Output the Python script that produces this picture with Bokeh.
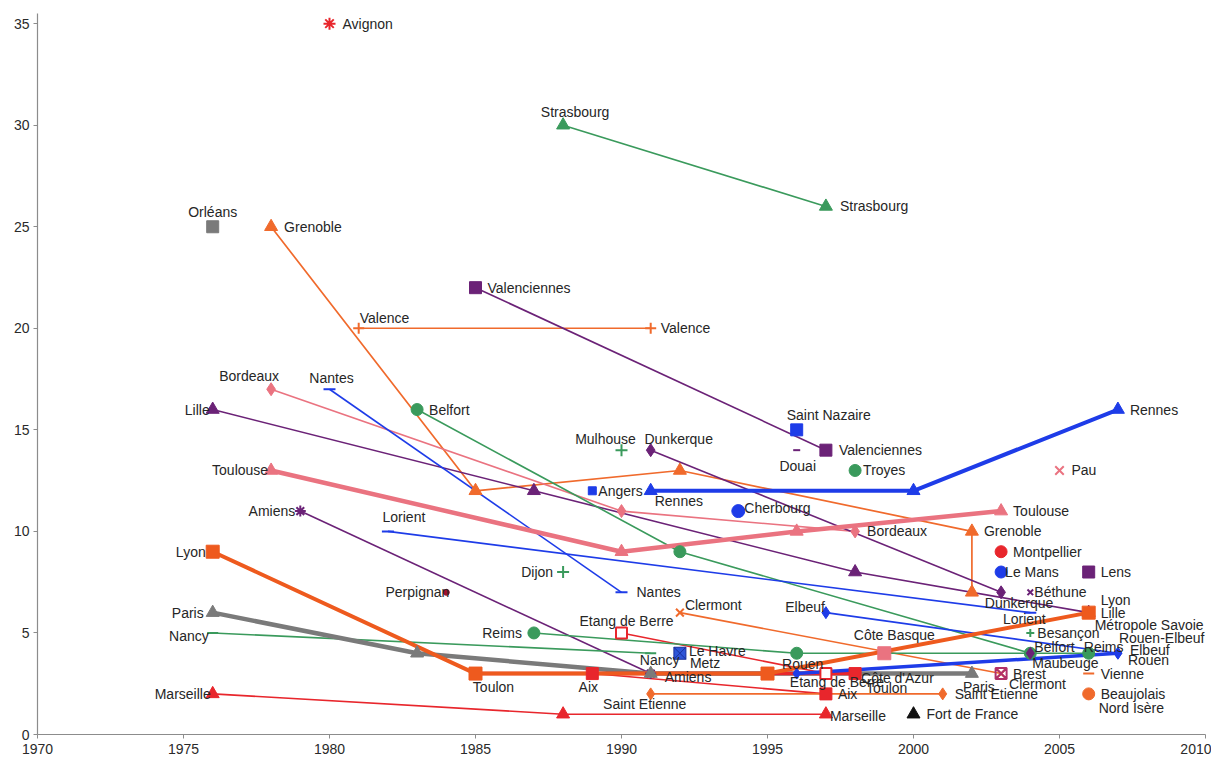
from bokeh.plotting import figure
from bokeh.models import Range1d, FixedTicker, ColumnDataSource
from bokeh.embed import file_html
from bokeh.resources import INLINE
from bokeh.core.properties import value, field

# ---------------- data (year, value) ----------------
avignon_x = [1980]; avignon_y = [35]
strasbourg_x = [1988, 1997]; strasbourg_y = [30, 26]
orleans_x = [1976]; orleans_y = [25]
grenoble_x = [1978, 1985, 1992, 2002, 2002]; grenoble_y = [25, 12, 13, 10, 7]
valence_x = [1981, 1991]; valence_y = [20, 20]
valenciennes_x = [1985, 1997]; valenciennes_y = [22, 14]
saint_nazaire_x = [1996]; saint_nazaire_y = [15]
douai_x = [1996]; douai_y = [14]
troyes_x = [1998]; troyes_y = [13]
pau_x = [2005]; pau_y = [13]
rennes_x = [1991, 2000, 2007]; rennes_y = [12, 12, 16]
bordeaux_x = [1978, 1990, 1998]; bordeaux_y = [17, 11, 10]
toulouse_x = [1978, 1990, 1996, 2003]; toulouse_y = [13, 9, 10, 11]
lille_x = [1976, 1987, 1998, 2006]; lille_y = [16, 12, 8, 6]
nantes_x = [1980, 1990]; nantes_y = [17, 7]
belfort_x = [1983, 1992, 2004]; belfort_y = [16, 9, 4]
mulhouse_x = [1990]; mulhouse_y = [14]
dunkerque_x = [1991, 2003]; dunkerque_y = [14, 7]
angers_x = [1989]; angers_y = [12]
cherbourg_x = [1994]; cherbourg_y = [11]
amiens_x = [1979, 1991]; amiens_y = [11, 3]
lorient_x = [1982, 2004]; lorient_y = [10, 6]
lyon_x = [1976, 1985, 1995, 2006]; lyon_y = [9, 3, 3, 6]
montpellier_x = [2003]; montpellier_y = [9]
le_mans_x = [2003]; le_mans_y = [8]
lens_x = [2006]; lens_y = [8]
bethune_x = [2004]; bethune_y = [7]
dijon_x = [1988]; dijon_y = [8]
perpignan_x = [1984]; perpignan_y = [7]
clermont_x = [1992, 2003]; clermont_y = [6, 3]
elbeuf_x = [1997, 2007]; elbeuf_y = [6, 4]
etang_x = [1990, 1997]; etang_y = [5, 3]
reims_x = [1987, 1996, 2006]; reims_y = [5, 4, 4]
nancy_x = [1976, 1991]; nancy_y = [5, 4]
le_havre_x = [1992]; le_havre_y = [4]
paris_x = [1976, 1983, 1991, 2002]; paris_y = [6, 4, 3, 3]
rouen_x = [1996, 2007]; rouen_y = [3, 4]
cote_basque_x = [1999]; cote_basque_y = [4]
toulon_x = [1985, 1998]; toulon_y = [3, 3]
aix_x = [1989, 1997]; aix_y = [3, 2]
saint_etienne_x = [1991, 2001]; saint_etienne_y = [2, 2]
marseille_x = [1976, 1988, 1997]; marseille_y = [2, 1, 1]
fort_de_france_x = [2000]; fort_de_france_y = [1]
brest_x = [2003]; brest_y = [3]
vienne_x = [2006]; vienne_y = [3]
beaujolais_x = [2006]; beaujolais_y = [2]
besancon_x = [2004]; besancon_y = [5]
maubeuge_x = [2004]; maubeuge_y = [4]

x_ticks = [1970, 1975, 1980, 1985, 1990, 1995, 2000, 2005, 2010]
y_ticks = [0, 5, 10, 15, 20, 25, 30, 35]

# ---------------- styles ----------------
RED = "#E8262C"
GREEN = "#3A9A5C"
ORANGE = "#F06A2C"
ORANGE2 = "#EE5A1E"
PURPLE = "#6B2277"
BLUE = "#1E3CE8"
PINK = "#EA7380"
GREY = "#7A7A7A"
DARKRED = "#A0102E"
BLACK = "#111111"

# (xs, ys, color, line_width, marker, size, fill)
SERIES = [
    (strasbourg_x, strasbourg_y, GREEN, 1.6, "triangle", 13, GREEN),
    (grenoble_x, grenoble_y, ORANGE, 1.7, "triangle", 13, ORANGE),
    (valence_x, valence_y, ORANGE, 1.6, "cross", 11, None),
    (valenciennes_x, valenciennes_y, PURPLE, 1.6, "square", 12, PURPLE),
    (bordeaux_x, bordeaux_y, PINK, 1.6, "diamond", 13, PINK),
    (lille_x, lille_y, PURPLE, 1.6, "triangle", 13, PURPLE),
    (nantes_x, nantes_y, BLUE, 1.6, "dash", 12, None),
    (belfort_x, belfort_y, GREEN, 1.6, "circle", 12, GREEN),
    (dunkerque_x, dunkerque_y, PURPLE, 1.6, "diamond", 13, PURPLE),
    (amiens_x, amiens_y, PURPLE, 1.6, "asterisk", 11, None),
    (lorient_x, lorient_y, BLUE, 1.6, "dash", 12, None),
    (clermont_x, clermont_y, ORANGE, 1.6, "x", 11, None),
    (elbeuf_x, elbeuf_y, BLUE, 1.6, "diamond", 12, BLUE),
    (etang_x, etang_y, RED, 1.6, "square", 11, "white"),
    (reims_x, reims_y, GREEN, 1.6, "circle", 12, GREEN),
    (nancy_x, nancy_y, GREEN, 1.6, "dash", 11, None),
    (aix_x, aix_y, RED, 1.6, "square", 12, RED),
    (saint_etienne_x, saint_etienne_y, ORANGE, 1.6, "diamond", 12, ORANGE),
    (marseille_x, marseille_y, RED, 1.6, "triangle", 13, RED),
    (paris_x, paris_y, GREY, 4.5, "triangle", 13, GREY),
    (toulon_x, toulon_y, RED, 3.5, "square", 12, RED),
    (lyon_x, lyon_y, ORANGE2, 4, "square", 13, ORANGE2),
    (rouen_x, rouen_y, BLUE, 3.5, "diamond", 11, BLUE),
    (toulouse_x, toulouse_y, PINK, 4.5, "triangle", 13, PINK),
    (rennes_x, rennes_y, BLUE, 4, "triangle", 13, BLUE),
    (avignon_x, avignon_y, RED, 0, "asterisk", 12, None),
    (orleans_x, orleans_y, GREY, 0, "square", 12, GREY),
    (saint_nazaire_x, saint_nazaire_y, BLUE, 0, "square", 12, BLUE),
    (douai_x, douai_y, PURPLE, 0, "dash", 7, None),
    (troyes_x, troyes_y, GREEN, 0, "circle", 12, GREEN),
    (pau_x, pau_y, PINK, 0, "x", 12, None),
    (mulhouse_x, mulhouse_y, GREEN, 0, "cross", 12, None),
    (angers_x, angers_y, BLUE, 0, "square", 8, BLUE),
    (cherbourg_x, cherbourg_y, BLUE, 0, "circle", 13, BLUE),
    (montpellier_x, montpellier_y, RED, 0, "circle", 12, RED),
    (le_mans_x, le_mans_y, BLUE, 0, "circle", 12, BLUE),
    (lens_x, lens_y, PURPLE, 0, "square", 12, PURPLE),
    (bethune_x, bethune_y, PURPLE, 0, "x", 8, None),
    (dijon_x, dijon_y, GREEN, 0, "cross", 12, None),
    (perpignan_x, perpignan_y, DARKRED, 0, "circle", 6, DARKRED),
    (le_havre_x, le_havre_y, "#1A2F9A", 0, "square_x", 12, "#2E55D8"),
    (cote_basque_x, cote_basque_y, PINK, 0, "square", 13, PINK),
    (fort_de_france_x, fort_de_france_y, BLACK, 0, "triangle", 13, BLACK),
    (brest_x, brest_y, "#B0306A", 0, "square_x", 11, None),
    (vienne_x, vienne_y, ORANGE, 0, "dash", 11, None),
    (beaujolais_x, beaujolais_y, ORANGE, 0, "circle", 12, ORANGE),
    (besancon_x, besancon_y, GREEN, 0, "cross", 8, None),
    (maubeuge_x, maubeuge_y, PURPLE, 0, "diamond", 12, PURPLE),
]

# (text, anchor x, anchor y, align, dx px, dy px)
LABELS = [
    ("Avignon", avignon_x[0], avignon_y[0], "left", 13, 0),
    ("Strasbourg", strasbourg_x[0], strasbourg_y[0], "center", 12, -13),
    ("Strasbourg", strasbourg_x[1], strasbourg_y[1], "left", 14, 0),
    ("Orléans", orleans_x[0], orleans_y[0], "center", 0, -15),
    ("Grenoble", grenoble_x[0], grenoble_y[0], "left", 13, 0),
    ("Grenoble", grenoble_x[3], grenoble_y[3], "left", 12, 0),
    ("Valence", valence_x[0], valence_y[0], "left", 1, -10),
    ("Valence", valence_x[1], valence_y[1], "left", 10, 0),
    ("Valenciennes", valenciennes_x[0], valenciennes_y[0], "left", 12, 0),
    ("Valenciennes", valenciennes_x[1], valenciennes_y[1], "left", 13, 0),
    ("Saint Nazaire", saint_nazaire_x[0], saint_nazaire_y[0], "center", 32, -15),
    ("Douai", douai_x[0], douai_y[0], "center", 1, 16),
    ("Troyes", troyes_x[0], troyes_y[0], "left", 8, 0),
    ("Pau", pau_x[0], pau_y[0], "left", 12, 0),
    ("Rennes", rennes_x[2], rennes_y[2], "left", 12, 0),
    ("Rennes", rennes_x[0], rennes_y[0], "left", 4, 10),
    ("Bordeaux", bordeaux_x[0], bordeaux_y[0], "center", -22, -13),
    ("Bordeaux", bordeaux_x[2], bordeaux_y[2], "left", 12, 0),
    ("Toulouse", toulouse_x[0], toulouse_y[0], "right", -3, 0),
    ("Toulouse", toulouse_x[3], toulouse_y[3], "left", 12, 0),
    ("Lille", lille_x[0], lille_y[0], "right", -3, 0),
    ("Lille", lille_x[3], lille_y[3], "left", 12, 0),
    ("Lyon", lyon_x[3], lyon_y[3], "left", 12, -13),
    ("Métropole Savoie", lyon_x[3], lyon_y[3], "left", 6, 12),
    ("Lyon", lyon_x[0], lyon_y[0], "right", -7, 0),
    ("Nantes", nantes_x[0], nantes_y[0], "center", 2, -11),
    ("Nantes", nantes_x[1], nantes_y[1], "left", 15, 0),
    ("Belfort", belfort_x[0], belfort_y[0], "left", 12, 0),
    ("Belfort", belfort_x[2], belfort_y[2], "left", 4, -6),
    ("Maubeuge", maubeuge_x[0], maubeuge_y[0], "left", 2, 10),
    ("Mulhouse", mulhouse_x[0], mulhouse_y[0], "center", -16, -11),
    ("Dunkerque", dunkerque_x[0], dunkerque_y[0], "center", 28, -11),
    ("Dunkerque", dunkerque_x[1], dunkerque_y[1], "center", 18, 11),
    ("Angers", angers_x[0], angers_y[0], "left", 6, 0),
    ("Cherbourg", cherbourg_x[0], cherbourg_y[0], "left", 6, -3),
    ("Amiens", amiens_x[0], amiens_y[0], "right", -5, 0),
    ("Amiens", amiens_x[1], amiens_y[1], "left", 14, 3),
    ("Lorient", lorient_x[0], lorient_y[0], "center", 16, -14),
    ("Lorient", lorient_x[1], lorient_y[1], "center", -6, 6),
    ("Montpellier", montpellier_x[0], montpellier_y[0], "left", 12, 0),
    ("Le Mans", le_mans_x[0], le_mans_y[0], "left", 4, 0),
    ("Lens", lens_x[0], lens_y[0], "left", 12, 0),
    ("Béthune", bethune_x[0], bethune_y[0], "left", 4, 0),
    ("Dijon", dijon_x[0], dijon_y[0], "right", -10, 0),
    ("Perpignan", perpignan_x[0], perpignan_y[0], "right", 3, 0),
    ("Clermont", clermont_x[0], clermont_y[0], "left", 5, -8),
    ("Clermont", clermont_x[1], clermont_y[1], "left", 8, 10),
    ("Etang de Berre", etang_x[0], etang_y[0], "center", 5, -12),
    ("Etang de Berre", etang_x[1], etang_y[1], "center", 11, 8),
    ("Reims", reims_x[0], reims_y[0], "right", -12, 0),
    ("Reims", reims_x[2], reims_y[2], "center", 15, -6),
    ("Nancy", nancy_x[0], nancy_y[0], "right", -4, 3),
    ("Nancy", nancy_x[1], nancy_y[1], "center", 9, 7),
    ("Le Havre", le_havre_x[0], le_havre_y[0], "left", 9, -2),
    ("Metz", le_havre_x[0], le_havre_y[0], "left", 10, 10),
    ("Paris", paris_x[0], paris_y[0], "right", -9, 0),
    ("Paris", paris_x[3], paris_y[3], "center", 7, 13),
    ("Rouen", rouen_x[0], rouen_y[0], "center", 6, -10),
    ("Rouen-Elbeuf", rouen_x[1], rouen_y[1], "left", 1, -15),
    ("Elbeuf", elbeuf_x[1], elbeuf_y[1], "left", 12, -3),
    ("Rouen", rouen_x[1], rouen_y[1], "left", 10, 7),
    ("Elbeuf", elbeuf_x[0], elbeuf_y[0], "right", -1, -6),
    ("Côte Basque", cote_basque_x[0], cote_basque_y[0], "center", 10, -18),
    ("Côte d'Azur", toulon_x[1], toulon_y[1], "left", 6, 4),
    ("Toulon", toulon_x[1], toulon_y[1], "left", 11, 14),
    ("Toulon", toulon_x[0], toulon_y[0], "center", 18, 13),
    ("Aix", aix_x[0], aix_y[0], "center", -4, 13),
    ("Aix", aix_x[1], aix_y[1], "left", 12, 0),
    ("Saint Etienne", saint_etienne_x[0], saint_etienne_y[0], "center", -6, 10),
    ("Saint Etienne", saint_etienne_x[1], saint_etienne_y[1], "left", 12, 0),
    ("Marseille", marseille_x[0], marseille_y[0], "right", -2, 0),
    ("Marseille", marseille_x[2], marseille_y[2], "left", 4, 2),
    ("Fort de France", fort_de_france_x[0], fort_de_france_y[0], "left", 13, 0),
    ("Brest", brest_x[0], brest_y[0], "left", 12, 0),
    ("Vienne", vienne_x[0], vienne_y[0], "left", 12, 0),
    ("Beaujolais", beaujolais_x[0], beaujolais_y[0], "left", 12, 0),
    ("Nord Isère", beaujolais_x[0], beaujolais_y[0], "left", 10, 14),
    ("Besançon", besancon_x[0], besancon_y[0], "left", 7, 0),
]

FONT = "Liberation Sans"

p = figure(width=1211, height=760, output_backend="svg", toolbar_location=None,
           x_range=Range1d(1970, 2010), y_range=Range1d(0, 35.5),
           min_border_left=37, min_border_right=6, min_border_top=13, min_border_bottom=26)
p.outline_line_color = None
p.xgrid.grid_line_color = None
p.ygrid.grid_line_color = None
p.background_fill_color = "white"

for ax in (p.xaxis[0], p.yaxis[0]):
    ax.axis_line_color = "#8C8C8C"
    ax.axis_line_width = 1.2
    ax.major_tick_line_color = "#8C8C8C"
    ax.major_tick_out = 4
    ax.major_tick_in = 0
    ax.minor_tick_line_color = None
    ax.major_label_text_font = FONT
    ax.major_label_text_font_size = "14px"
    ax.major_label_text_color = "#2A2A2A"
p.xaxis[0].major_label_standoff = 5
p.yaxis[0].major_label_standoff = 4
p.xaxis[0].ticker = FixedTicker(ticks=x_ticks)
p.yaxis[0].ticker = FixedTicker(ticks=y_ticks)

# lines
for xs, ys, col, lw, mk, sz, fill in SERIES:
    if lw > 0 and len(xs) > 1:
        p.line(xs, ys, line_color=col, line_width=lw)

# markers
for xs, ys, col, lw, mk, sz, fill in SERIES:
    p.scatter(xs, ys, marker=mk, size=sz, line_color=col,
              fill_color=fill, line_width=2 if fill in (None, "white") else 1)

src = ColumnDataSource(dict(
    x=[l[1] for l in LABELS], y=[l[2] for l in LABELS],
    text=[l[0] for l in LABELS], align=[l[3] for l in LABELS],
    xo=[l[4] for l in LABELS], yo=[l[5] for l in LABELS]))
p.text(x="x", y="y", text="text", source=src, x_offset="xo", y_offset="yo",
       text_align=field("align"), text_baseline="middle",
       text_font=value(FONT), text_font_size="14px", text_color="#262626")

open("out.html", "w").write(file_html(p, INLINE))
